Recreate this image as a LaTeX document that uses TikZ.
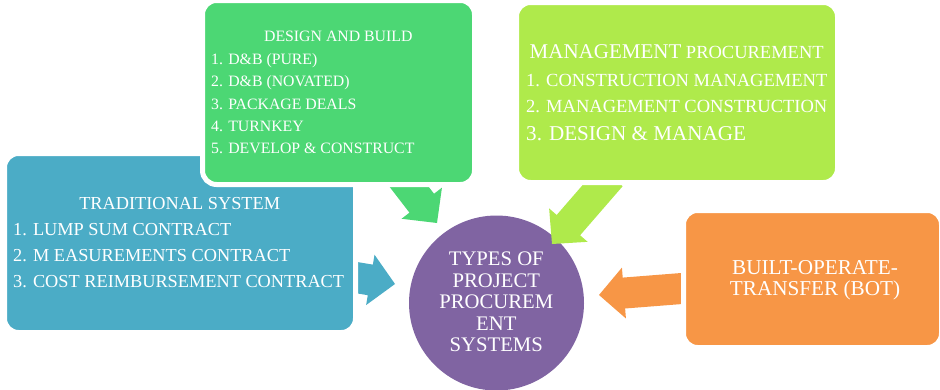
\documentclass[tikz,border=0pt]{standalone}
\usepackage{fontspec}
\setmainfont{Liberation Serif}
\usetikzlibrary{calc}

\definecolor{tradblue}{HTML}{4BACC6}
\definecolor{dbgreen}{HTML}{4CD774}
\definecolor{mplime}{HTML}{AFEA4B}
\definecolor{botorange}{HTML}{F79646}
\definecolor{hubpurple}{HTML}{8064A2}

\tikzset{
  panel/.style={draw=white, line width=5pt, rounded corners=14pt, inner sep=0pt},
  hub/.style={circle, fill=hubpurple, inner sep=0pt, minimum size=175pt},
  lbl/.style={text=white, inner sep=0pt, anchor=base},
  item/.style={lbl, anchor=base west},
}

% block arrow #1 colour, from tail coordinate #2 to tip coordinate #3
\newcommand\blockarrow[3]{%
  \fill[#1] let \p1=($(#3)-(#2)$), \n1={atan2(\y1,\x1)}, \n2={veclen(\x1,\y1)} in
    [shift={(#3)}, rotate=\n1]
    (0,0) -- (-25,25.5) -- (-25,15.5) -- (-\n2,15.5) -- (-\n2,-15.5)
    -- (-25,-15.5) -- (-25,-25.5) -- cycle;
}

\begin{document}
\begin{tikzpicture}[x=1pt, y=-1pt]
\useasboundingbox (0,0) rectangle (940,389);

% central hub
\node[hub] (hub) at (496.5,303) {};
\node[lbl, anchor=north, align=center, font=\fontsize{20.7}{21.5}\selectfont] (hubtext)
  at (496.3,251.7) {TYPES OF\\PROJECT\\PROCUREM\\ENT\\SYSTEMS};

% arrow ends
\coordinate (tradtail) at (350,276.5);
\coordinate (tradtip)  at (395,284);
\coordinate (dbtail)   at (400.4,175.5);
\coordinate (dbtip)    at (437,223);
\coordinate (mptail)   at (611,176);
\coordinate (mptip)    at (552,244);
\coordinate (bottail)  at (690.7,287.8);
\coordinate (bottip)   at (599,295);

\blockarrow{tradblue}{tradtail}{tradtip}
\blockarrow{dbgreen}{dbtail}{dbtip}
\blockarrow{mplime}{mptail}{mptip}
\blockarrow{botorange}{bottail}{bottip}

% panels
\node[panel, fill=tradblue, minimum width=351pt, minimum height=179pt] (trad) at (180,243) {};
\node[panel, fill=dbgreen, minimum width=272pt, minimum height=184pt] (db) at (338.5,92.5) {};
\node[panel, fill=mplime, minimum width=321pt, minimum height=180pt] (mp) at (677,92.5) {};
\node[panel, fill=botorange, minimum width=258pt, minimum height=137pt] (bot) at (812.5,279) {};

% traditional system
\begin{scope}[every node/.append style={font=\fontsize{18.3}{22}\selectfont}]
\node[lbl] (tradhead) at (179.7,209.5) {TRADITIONAL SYSTEM};
\node[item] (trad1) at (13,235.7) {1. LUMP SUM CONTRACT};
\node[item] (trad2) at (13,261.7) {2. M EASUREMENTS CONTRACT};
\node[item] (trad3) at (13,287.5) {3. COST REIMBURSEMENT CONTRACT};
\end{scope}

% design and build
\begin{scope}[every node/.append style={font=\fontsize{15.8}{19}\selectfont}]
\node[lbl] (dbhead) at (338.3,41.3) {DESIGN AND BUILD};
\node[item] (db1) at (211,64.3) {1. D\&B (PURE)};
\node[item] (db2) at (211,86.7) {2. D\&B (NOVATED)};
\node[item] (db3) at (211,109.3) {3. PACKAGE DEALS};
\node[item] (db4) at (211,131) {4. TURNKEY};
\node[item] (db5) at (211,153.3) {5. DEVELOP \& CONSTRUCT};
\end{scope}

% management procurement
\begin{scope}[every node/.append style={font=\fontsize{18.5}{22}\selectfont}]
\node[lbl] (mphead) at (676.7,58.3) {{\fontsize{21}{24}\selectfont MANAGEMENT} PROCUREMENT};
\node[item] (mp1) at (526,86) {1. CONSTRUCTION MANAGEMENT};
\node[item] (mp2) at (526,112.3) {2. MANAGEMENT CONSTRUCTION};
\node[item, font=\fontsize{21.1}{24}\selectfont] (mp3) at (526,140.7) {3. DESIGN \& MANAGE};
\end{scope}

% build-operate-transfer
\node[lbl, anchor=north, align=center, font=\fontsize{21.2}{21}\selectfont] (bottext)
  at (815,260) {BUILT-OPERATE-\\TRANSFER (BOT)};

\end{tikzpicture}
\end{document}
